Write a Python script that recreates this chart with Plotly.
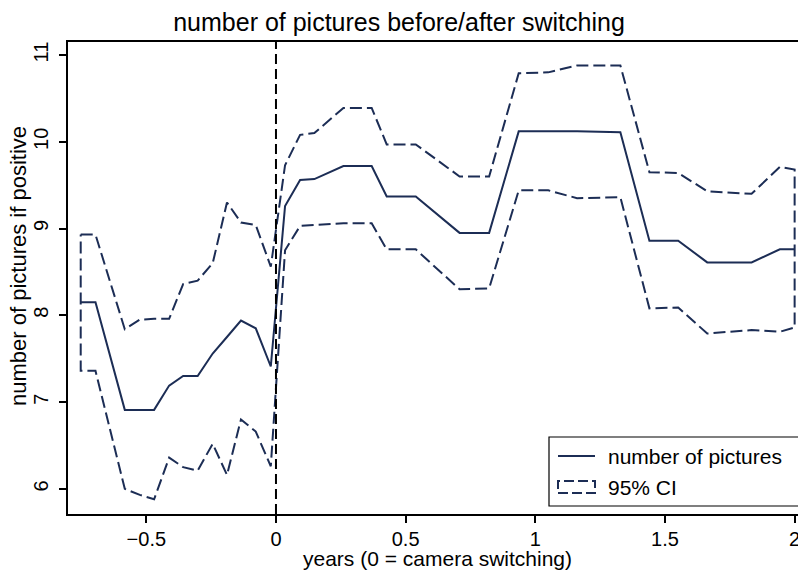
import plotly.graph_objects as go

years = [-0.753, -0.696, -0.583, -0.525, -0.470, -0.412, -0.358, -0.302, -0.244, -0.189,
         -0.135, -0.078, -0.020, 0.035, 0.093, 0.148, 0.260, 0.369, 0.427, 0.539,
         0.708, 0.822, 0.936, 1.050, 1.161, 1.328, 1.440, 1.551, 1.663, 1.834, 1.943, 2.000]

n_pictures = [8.15, 8.15, 6.91, 6.91, 6.91, 7.19, 7.30, 7.30, 7.56, 7.75,
              7.94, 7.85, 7.41, 9.26, 9.56, 9.57, 9.72, 9.72, 9.37, 9.37,
              8.95, 8.95, 10.12, 10.12, 10.12, 10.11, 8.86, 8.86, 8.61, 8.61, 8.76, 8.76]

ci_upper = [8.93, 8.93, 7.84, 7.95, 7.96, 7.96, 8.36, 8.40, 8.60, 9.30,
            9.07, 9.04, 8.56, 9.73, 10.08, 10.10, 10.39, 10.39, 9.97, 9.97,
            9.60, 9.60, 10.79, 10.80, 10.88, 10.88, 9.65, 9.64, 9.43, 9.40, 9.71, 9.68]

ci_lower = [7.36, 7.36, 6.00, 5.93, 5.88, 6.36, 6.25, 6.21, 6.52, 6.16,
            6.80, 6.66, 6.26, 8.75, 9.03, 9.04, 9.06, 9.06, 8.76, 8.76,
            8.30, 8.31, 9.44, 9.44, 9.35, 9.36, 8.08, 8.09, 7.79, 7.83, 7.81, 7.86]

x_ticks = [-0.5, 0, 0.5, 1, 1.5, 2]
x_ticklabels = ["\u22120.5", "0", "0.5", "1", "1.5", "2"]
y_ticks = [6, 7, 8, 9, 10, 11]
y_ticklabels = ["6", "7", "8", "9", "10", "11"]

legend_labels = ["number of pictures", "95% CI"]

NAVY = "#1c2d55"
FONT = "Liberation Sans, Arial, Helvetica, sans-serif"
DASH = "12px,5px"

W, H = 798, 573
ML, MR, MT, MB = 68, 0, 42, 573 - 514
PW, PH = W - ML - MR, H - MT - MB


def px(xp):
    """window x pixel -> paper fraction"""
    return (xp - ML) / PW


def py(yp):
    """window y pixel -> paper fraction"""
    return (H - MB - yp) / PH


fig = go.Figure()

# 95% CI drawn as an unfilled dashed outline
fig.add_trace(go.Scatter(
    x=years + years[::-1] + [years[0]],
    y=ci_upper + ci_lower[::-1] + [ci_upper[0]],
    mode="lines",
    line=dict(color=NAVY, width=2, dash=DASH),
    name=legend_labels[1],
    showlegend=False,
    hoverinfo="skip",
))

fig.add_trace(go.Scatter(
    x=years, y=n_pictures, mode="lines",
    line=dict(color=NAVY, width=2),
    name=legend_labels[0],
    showlegend=False,
))

# vertical reference line at 0
fig.add_shape(type="line", xref="x", yref="paper", x0=0, x1=0, y0=0, y1=1,
              line=dict(color="black", width=2, dash="10px,5px"))

# manual legend (box, keys, labels)
fig.add_shape(type="rect", xref="paper", yref="paper",
              x0=px(549), x1=px(812), y0=py(506), y1=py(437),
              line=dict(color="black", width=1.2), fillcolor="white", layer="above")
fig.add_shape(type="line", xref="paper", yref="paper",
              x0=px(558), x1=px(595), y0=py(456), y1=py(456),
              line=dict(color=NAVY, width=2), layer="above")
fig.add_shape(type="rect", xref="paper", yref="paper",
              x0=px(558), x1=px(595), y0=py(493), y1=py(481),
              line=dict(color=NAVY, width=2, dash="10px,4px"), layer="above")
for label, yc in zip(legend_labels, [456, 487]):
    fig.add_annotation(text=label, xref="paper", yref="paper", x=px(606), y=py(yc),
                       xanchor="left", yanchor="middle", showarrow=False,
                       font=dict(size=21, family=FONT, color="black"))

# axis titles
fig.add_annotation(text="years (0 = camera switching)", xref="paper", yref="paper",
                   x=px(437), y=py(558), xanchor="center", yanchor="middle",
                   showarrow=False, font=dict(size=21, family=FONT, color="black"))
fig.add_annotation(text="number of pictures if positive", xref="paper", yref="paper",
                   x=px(18), y=py(266), xanchor="center", yanchor="middle", textangle=-90,
                   showarrow=False, font=dict(size=22, family=FONT, color="black"))

fig.update_layout(
    width=W, height=H,
    margin=dict(l=ML, r=MR, t=MT, b=MB, autoexpand=False),
    paper_bgcolor="white", plot_bgcolor="white",
    font=dict(family=FONT, color="black", size=20),
    title=dict(text="number of pictures before/after switching",
               x=0.5, xref="container", xanchor="center",
               y=1 - 22 / H, yref="container", yanchor="middle",
               font=dict(size=25, family=FONT, color="black")),
    showlegend=False,
    xaxis=dict(range=[-0.802, 2.013], tickvals=x_ticks, ticktext=x_ticklabels,
               showgrid=False, zeroline=False, showline=True, linecolor="black",
               linewidth=2, mirror=True, ticks="outside", ticklen=7, tickwidth=1.5,
               tickcolor="black", tickfont=dict(size=20), ticklabelstandoff=-1,
               ticklabeloverflow="allow", automargin=False),
    yaxis=dict(range=[5.71, 11.15], tickvals=y_ticks, ticktext=y_ticklabels,
               showgrid=False, zeroline=False, showline=True, linecolor="black",
               linewidth=2, ticks="outside", ticklen=7, tickwidth=1.5,
               tickcolor="black", tickangle=-90, tickfont=dict(size=20),
               ticklabelstandoff=3, automargin=False),
)

# remove the default page margin so the figure sits at the window origin
fig.write_html("out.html",
               config={"displayModeBar": False},
               post_script="document.body.style.margin='0';document.body.style.overflow='hidden';")
